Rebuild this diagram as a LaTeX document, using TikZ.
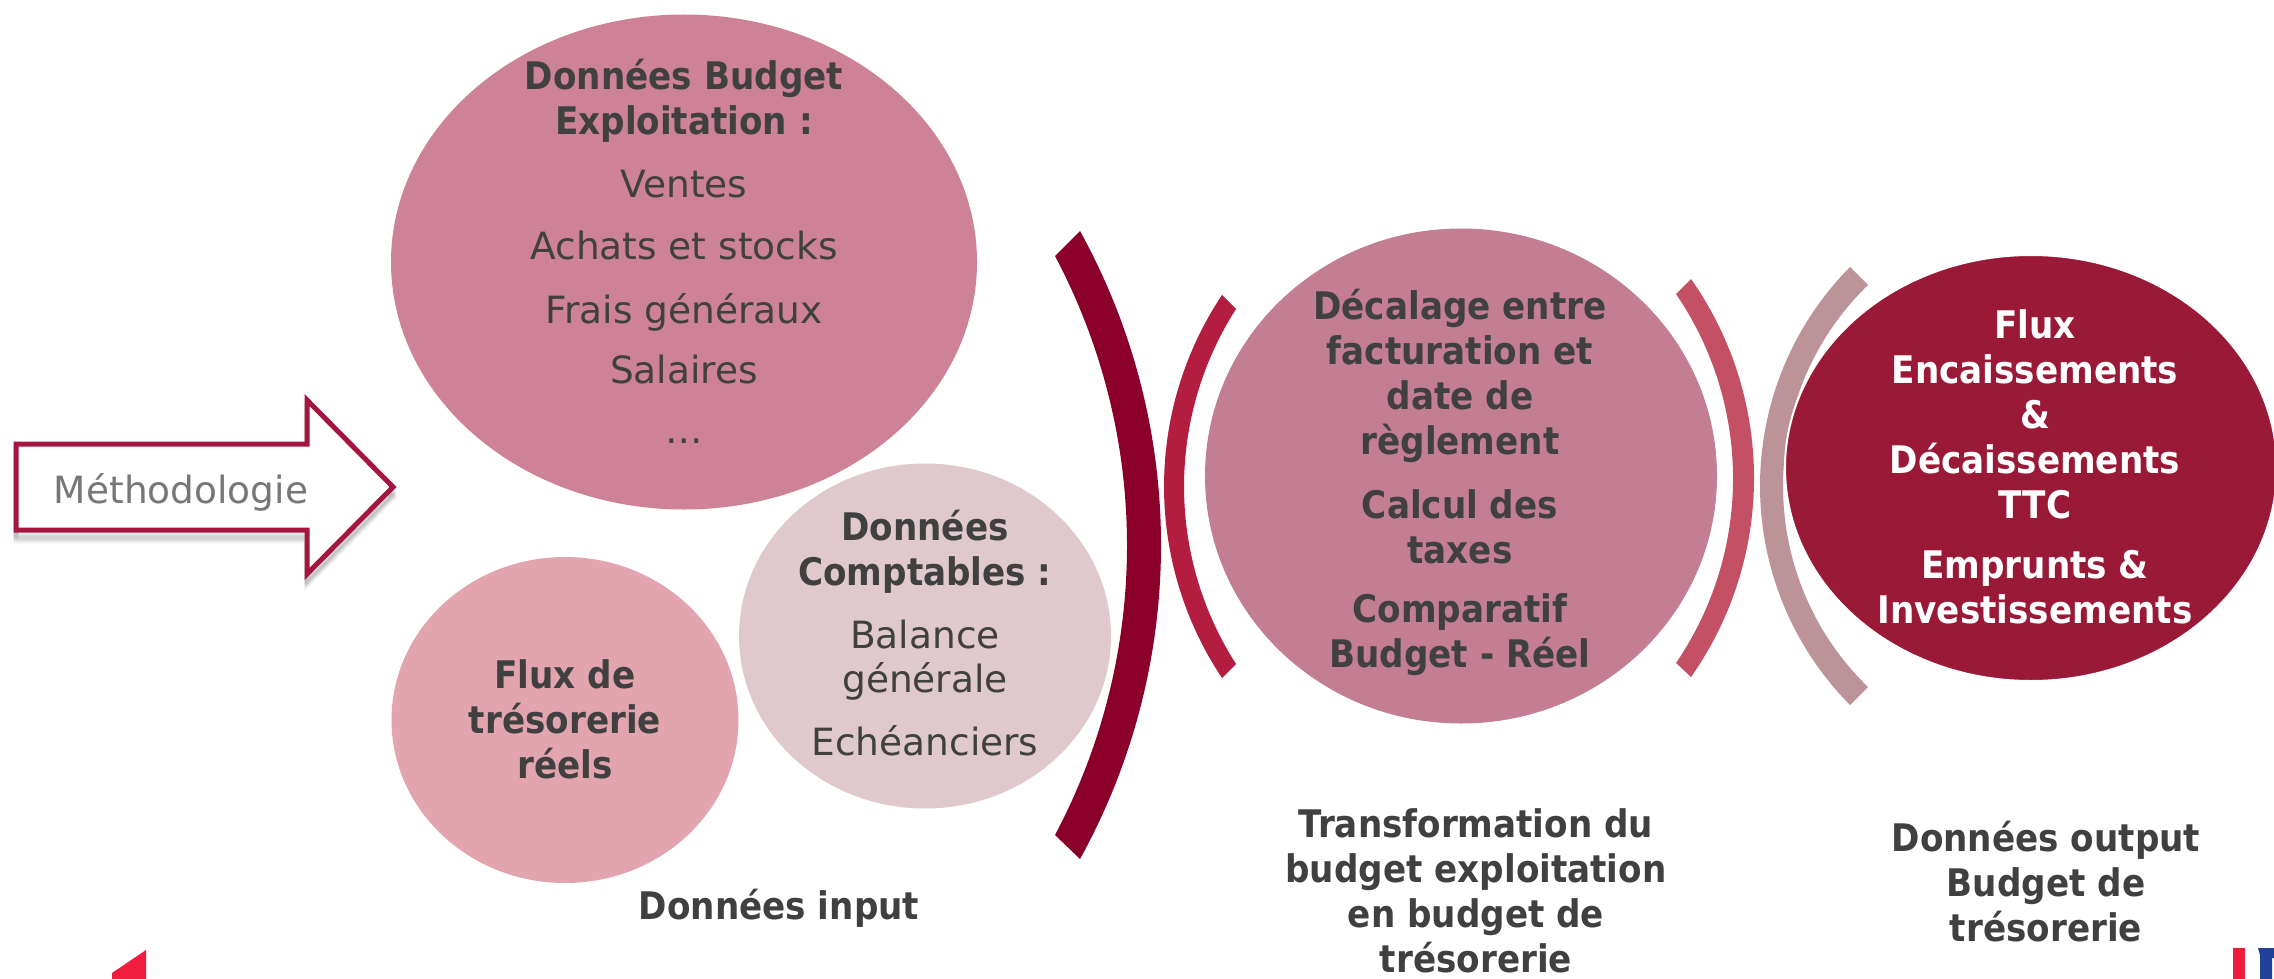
\documentclass[tikz,border=0pt]{standalone}
\usepackage{fontspec}
\setmainfont{DejaVu Sans}[BoldFont={DejaVu Sans Condensed Bold}]
\usetikzlibrary{shapes.geometric}
\definecolor{txt}{HTML}{404040}
\definecolor{eOne}{HTML}{CE8297}
\definecolor{eTwo}{HTML}{E2A5B0}
\definecolor{eThree}{HTML}{DFC9CC}
\definecolor{eFour}{HTML}{C37E93}
\definecolor{eFive}{HTML}{9A1937}
\definecolor{arcA}{HTML}{8B002B}
\definecolor{arcB}{HTML}{B21D40}
\definecolor{arcC}{HTML}{C35063}
\definecolor{arcD}{HTML}{BC9398}
\definecolor{frameC}{HTML}{A5163F}
\definecolor{logoR}{HTML}{F01C3E}
\definecolor{logoB}{HTML}{21409A}
\definecolor{methoC}{HTML}{777777}
\tikzset{
  blob/.style={ellipse,inner sep=0pt,outer sep=0pt},
  bt/.style={text=txt,align=center,inner sep=0pt,font=\fontsize{38}{45}\selectfont\bfseries},
  rt/.style={text=txt,align=center,inner sep=0pt,font=\fontsize{37.5}{43.5}\selectfont},
  wt/.style={text=white,align=center,inner sep=0pt,font=\fontsize{38}{45}\selectfont\bfseries},
}
\begin{document}
\begin{tikzpicture}[x=1pt,y=-1pt]
\useasboundingbox (0,0) rectangle (2274,979);
% ellipses
\node[blob,fill=eOne,minimum width=586pt,minimum height=495pt] (budget) at (684,262) {};
\node[blob,fill=eTwo,minimum width=347pt,minimum height=326pt] (flux) at (565,720) {};
\node[blob,fill=eThree,minimum width=372pt,minimum height=345pt] (compta) at (925,636) {};
\node[blob,fill=eFour,minimum width=512pt,minimum height=495pt] (transfo) at (1461,476) {};
% arcs
\fill[arcA] (1055,256) .. controls (1151,437) and (1151,654) .. (1055,835) -- (1080,859) .. controls (1188,663.6) and (1188,426.4) .. (1080,231) -- cycle;
\fill[arcB] (1222,295) .. controls (1144.7,410.9) and (1144.7,562.1) .. (1222,678) -- (1236,664) .. controls (1166.7,555.8) and (1166.7,417.2) .. (1236,309) -- cycle;
\fill[arcC] (1676,294) .. controls (1752,405.3) and (1752,551.7) .. (1676,663) -- (1691,677) .. controls (1775,557.6) and (1775,398.4) .. (1691,279) -- cycle;
\fill[arcD] (1850,267) .. controls (1730,388.4) and (1730,583.6) .. (1850,705) -- (1868,687) .. controls (1754.7,577) and (1754.7,395) .. (1868,285) -- cycle;
\node[blob,fill=eFive,draw=white,line width=2pt,minimum width=492pt,minimum height=426pt] (sortie) at (2031,468) {};
% arrow
\foreach \o/\a in {5/.08,7/.08,9/.07,11/.05}{
  \draw[black,opacity=\a,line width=5pt,miter limit=10]
   (16,444+\o) -- (307,444+\o) -- (307,400+\o) -- (393,487+\o) -- (307,574+\o) -- (307,530+\o) -- (16,530+\o) -- cycle;
}
\fill[white] (16,444) -- (307,444) -- (307,400) -- (393,487) -- (307,574) -- (307,530) -- (16,530) -- cycle;
\draw[frameC,line width=5pt,miter limit=10] (16,444) -- (307,444) -- (307,400) -- (393,487) -- (307,574) -- (307,530) -- (16,530) -- cycle;
\node[text=methoC,inner sep=0pt,font=\fontsize{37.5}{43.5}\selectfont] (metho) at (181,492) {Méthodologie};
% texts
\node[bt] (t1) at (684,101) {Données Budget\\Exploitation :};
\node[rt] (t2) at (684,184) {Ventes};
\node[rt] (t3) at (684,246) {Achats et stocks};
\node[rt] (t4) at (684,312) {Frais généraux};
\node[rt] (t5) at (684,370) {Salaires};
\node[rt] (t6) at (684,441) {…};
\node[bt] (t7) at (565,719) {Flux de\\trésorerie\\réels};
\node[bt] (t8) at (925,552) {Données\\Comptables :};
\node[rt] (t9) at (925,660) {Balance\\générale};
\node[rt] (t10) at (925,741) {Echéanciers};
\node[bt] (t11) at (1460,376) {Décalage entre\\facturation et\\date de\\règlement};
\node[bt] (t12) at (1460,527) {Calcul des\\taxes};
\node[bt] (t13) at (1460,635) {Comparatif\\Budget - Réel};
\node[wt] (t14) at (2035,414) {Flux\\Encaissements\\\&\\Décaissements\\TTC};
\node[wt] (t15) at (2035,587) {Emprunts \&\\Investissements};
\node[bt] (c1) at (779,908) {Données input};
\node[bt] (c2) at (1476,891) {Transformation du\\budget exploitation\\en budget de\\trésorerie};
\node[bt] (c3) at (2046,882) {Données output\\Budget de\\trésorerie};
% logo fragments
\fill[logoR] (112,973) -- (146,950) -- (146,979) -- (112,979) -- cycle;
\fill[logoR] (2233,948) rectangle (2245,979);
\fill[logoB] (2258,948) -- (2274,948) -- (2274,958) -- (2272,958) -- (2272,979) -- (2260,979) -- (2260,955) -- cycle;
\end{tikzpicture}
\end{document}
